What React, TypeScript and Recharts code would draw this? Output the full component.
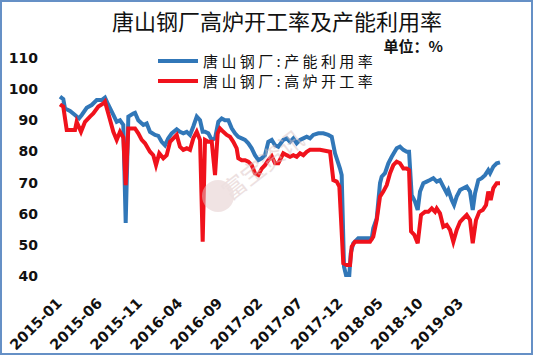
import React from "react";
import { LineChart, Line, XAxis, YAxis } from "recharts";

// months counted from 2015-01
const capMonths = [
  0, 0.41, 0.62, 1.25, 1.87, 2.37, 2.71, 3.33, 3.95, 4.58, 5.2, 5.61, 6.02, 6.65, 7.07, 7.48, 7.89, 8.19, 8.52, 9.14,
  9.35, 9.76, 10.39, 10.81, 11.22, 11.85, 12.26, 12.68, 13.09, 13.5, 13.93, 14.55, 14.96, 15.37, 15.8, 16.21, 16.62,
  17.05, 17.46, 17.79, 18.08, 18.49, 18.92, 19.33, 19.74, 20.16, 20.57, 20.99, 21.41, 21.82, 22.23, 22.66, 23.07,
  23.48, 23.9, 24.31, 24.73, 25.15, 25.56, 25.97, 26.4, 26.81, 27.22, 27.84, 28.27, 28.68, 29.09, 29.51, 29.93,
  30.34, 30.76, 31.17, 31.58, 32.21, 32.83, 33.45, 33.88, 34.29, 34.7, 34.91, 35.12, 35.41, 35.66, 36.07, 36.25,
  36.57, 37.19, 38.03, 38.87, 39.06, 39.49, 39.9, 40.11, 40.52, 40.94, 41.36, 41.98, 42.39, 42.81, 43.23, 43.52,
  43.85, 44.26, 44.6, 44.89, 45.3, 45.72, 46.13, 46.55, 46.97, 47.38, 47.79, 48.22, 48.42, 48.84, 49.13, 49.46,
  49.88, 50.29, 50.71, 51.12, 51.46, 51.75, 52.16, 52.58, 52.99, 53.4, 53.62, 54.03, 54.45, 54.86,
];
const capValues = [
  97.6, 96.8, 93.8, 93, 91.7, 90.6, 91.7, 94, 94.9, 96.5, 96.5, 97.3, 95, 91.7, 89.5, 90, 88.5, 57, 91.2, 92.2,
  92.4, 90, 88.5, 89, 86.3, 85.3, 85, 83.1, 82, 84.2, 85.8, 87.1, 86.3, 85.8, 86.3, 85.3, 88,
  91.2, 90, 86.3, 86.3, 85.8, 83.7, 84.2, 89.5, 90.6, 90, 90, 87.4, 85.8, 84.7, 84.2, 83.7,
  82.6, 81, 78.8, 77.2, 77.8, 78.8, 83.1, 83.7, 82, 81.5, 83.7, 84.2, 83.1, 84.2, 82.6, 83.7,
  84.2, 84.7, 84.2, 85.3, 85.8, 85.8, 85.3, 84.7, 79.4, 76.2, 74.5, 72.4, 43, 40.3, 40.3, 47.3,
  50.5, 52.1, 52.1, 52.1, 55.3, 58.5, 69.8, 71.9, 73, 76.2, 78.3, 81, 81.5, 80.5, 79.9, 79.9,
  66, 63.9, 61.2, 67.1, 69.8, 70.3, 70.8, 71.4, 70.3, 70.8, 68.7, 66.6, 67.6, 64.4, 62.8, 65.5,
  67.6, 68.2, 68.7, 67.1, 61.2, 66.6, 70.8, 71.4, 72.4, 74, 73, 75.1, 76.2, 76.5,
];

const blastMonths = [
  0, 0.41, 0.84, 1.25, 1.87, 2.08, 2.62, 3.12, 3.74, 4.15, 4.78, 5.4, 5.61, 6.02, 6.65, 7.07, 7.48, 7.89, 8.19, 8.52,
  9.14, 9.35, 9.76, 10.19, 10.6, 11.22, 11.63, 11.97, 12.38, 12.88, 13.3, 13.72, 14.13, 14.55, 14.96, 15.37, 15.8,
  16.21, 16.62, 17.05, 17.46, 17.79, 18.08, 18.49, 18.92, 19.33, 19.66, 19.95, 20.36, 20.79, 21.2, 21.61, 22.03,
  22.23, 22.66, 23.07, 23.48, 23.9, 24.31, 24.73, 25.15, 25.56, 25.97, 26.4, 26.81, 27.22, 27.84, 28.27, 28.68,
  29.09, 29.51, 29.93, 30.34, 30.76, 31.17, 32.42, 33.67, 34.08, 34.5, 34.83, 35.32, 35.75, 36.16, 36.37, 36.78,
  37.19, 37.82, 38.65, 39.06, 39.49, 39.9, 40.31, 40.74, 41.15, 41.56, 41.98, 42.39, 42.81, 43.23, 43.52, 43.77,
  44.18, 44.6, 45.01, 45.51, 45.92, 46.35, 46.76, 46.97, 47.38, 47.79, 48.22, 48.63, 49.04, 49.46, 49.88, 50.29,
  50.71, 51.12, 51.46, 51.87, 52.28, 52.71, 53.12, 53.4, 53.7, 54.03, 54.45, 54.86,
];
const blastValues = [
  95.1, 94.4, 86.9, 86.9, 86.9, 89.5, 86.3, 89.5, 91.2, 92.2, 94.4, 95.4, 96, 92.2, 86.3, 83.7, 86.3, 84.5, 69.2, 87.4,
  87.4, 87.4, 85.8, 83.7, 82.6, 79.9, 78.8, 75.6, 79.4, 77.8, 78.8, 83.1, 84.2, 85.3, 81.5, 80.5, 81,
  80.5, 84.2, 86.3, 83.7, 51, 83.7, 83.1, 83.1, 72.4, 85.8, 87.4, 86.3, 85.3, 84.7, 83.1, 81,
  77.8, 77.2, 77.2, 76.7, 75.6, 73, 72.4, 74.5, 75.6, 77.2, 78.5, 76.2, 76.2, 79.4, 78.8, 78.3,
  78.8, 78.3, 79.4, 78.8, 79.9, 80.5, 80.5, 79.9, 70.8, 70.3, 68.7, 44.1, 43.5, 43.5, 49.4, 51,
  51, 51, 51, 52.6, 58, 65.5, 67.1, 69.2, 73, 75.6, 76.7, 76.2, 74.5, 74.5, 74, 54.3,
  53.2, 50.5, 59.6, 60.6, 60.6, 61.7, 60.6, 61.7, 60.1, 55.8, 56.4, 54.8, 51, 54.8, 57.4, 58.5,
  59.6, 58, 50.5, 58, 60.6, 61.2, 62.8, 67.1, 64.4, 68.2, 69.8, 69.8,
];

const tickMonths = [0, 5, 10, 15, 20, 25, 30, 35, 40, 45, 50];
const tickLabels = ["2015-01", "2015-06", "2015-11", "2016-04", "2016-09", "2017-02", "2017-07", "2017-12", "2018-05", "2018-10", "2019-03"];
const yTicks = [40, 50, 60, 70, 80, 90, 100, 110];

const capName = "唐山钢厂:产能利用率";
const blastName = "唐山钢厂:高炉开工率";

const capData = capMonths.map((m, i) => ({ m, v: capValues[i] }));
const blastData = blastMonths.map((m, i) => ({ m, v: blastValues[i] }));

const BLUE = "#3177b8";
const RED = "#f0121c";
const cjk = "'Noto Sans CJK SC', sans-serif";

function XTick(props: any) {
  const { x, y, payload } = props;
  const i = tickMonths.indexOf(payload.value);
  const tx = x + 3;
  const ty = y + 26;
  return (
    <text
      x={tx}
      y={ty}
      transform={`rotate(-45 ${tx} ${ty})`}
      textAnchor="end"
      fontFamily="'DejaVu Sans', sans-serif"
      fontWeight="bold"
      fontSize={14.5}
      fill="#111"
    >
      {tickLabels[i]}
    </text>
  );
}

export default function App() {
  return (
    <div
      style={{
        position: "absolute",
        left: 0,
        top: 0,
        width: 533,
        height: 355,
        boxSizing: "border-box",
        border: "2px solid #6590c6",
        background: "#fff",
      }}
    >
      <div style={{ position: "absolute", left: -2, top: -2 }}>
        <LineChart width={533} height={356} margin={{ top: 58, right: 33, bottom: 50, left: 0 }}>
          <XAxis
            type="number"
            dataKey="m"
            domain={[0, 54.86]}
            ticks={tickMonths}
            axisLine={false}
            tickLine={false}
            tickSize={0}
            height={30}
            tick={<XTick />}
            allowDuplicatedCategory={false}
          />
          <YAxis
            type="number"
            domain={[40, 110]}
            ticks={yTicks}
            width={60}
            axisLine={false}
            tickLine={false}
            tickSize={0}
            tickMargin={22}
            tick={{ fill: "#111", fontSize: 14, fontWeight: "bold", fontFamily: "'DejaVu Sans', sans-serif" }}
          />
          <Line data={capData} dataKey="v" name={capName} stroke={BLUE} strokeWidth={4} dot={false} isAnimationActive={false} />
          <Line data={blastData} dataKey="v" name={blastName} stroke={RED} strokeWidth={4} dot={false} isAnimationActive={false} />
        </LineChart>
        <svg width={533} height={356} style={{ position: "absolute", left: 0, top: 0, pointerEvents: "none" }}>
          <g opacity={0.5}>
            <circle cx={218} cy={196} r={16} fill="#e3c9c9" />
            <text x={268} y={172} transform="rotate(-38 268 172)" textAnchor="middle" fontFamily={cjk} fontSize={24} fill="#dcc3c3">
              富宝资讯
            </text>
          </g>
          <text x={277} y={30} textAnchor="middle" fontFamily={cjk} fontSize={22} fill="#111">
            唐山钢厂高炉开工率及产能利用率
          </text>
          <text x={443} y={52} textAnchor="end" fontFamily={cjk} fontSize={15} fontWeight="bold" fill="#111">
            单位：%
          </text>
          <line x1={158} y1={61} x2={198} y2={61} stroke={BLUE} strokeWidth={4} />
          <text x={203} y={66.5} fontFamily={cjk} fontSize={15} fill="#111" letterSpacing={3.4}>
            {capName}
          </text>
          <line x1={158} y1={81} x2={198} y2={81} stroke={RED} strokeWidth={4} />
          <text x={203} y={86.5} fontFamily={cjk} fontSize={15} fill="#111" letterSpacing={3.4}>
            {blastName}
          </text>
        </svg>
      </div>
    </div>
  );
}
